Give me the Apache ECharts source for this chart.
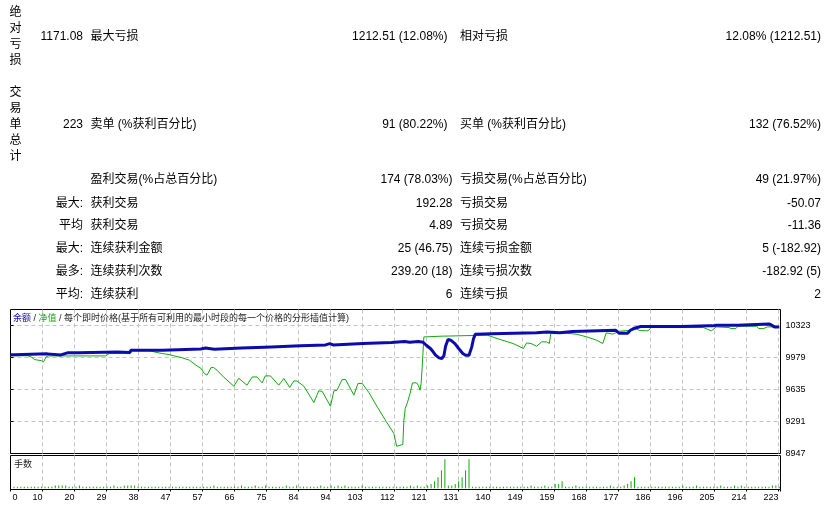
<!DOCTYPE html>
<html><head><meta charset="utf-8">
<script src="https://cdn.jsdelivr.net/npm/echarts@6/dist/echarts.min.js"></script>
<style>html,body{margin:0;padding:0;background:#fff}#c{width:832px;height:508px}</style>
</head><body><div id="c"></div>
<script>
// ---------- report table text ----------
const sectionLabels = ['绝对亏损', '交易单总计'];
const col1 = ['1171.08', '223', '', '最大:', '平均', '最大:', '最多:', '平均:'];
const col2 = ['最大亏损', '卖单 (%获利百分比)', '盈利交易(%占总百分比)', '获利交易', '获利交易', '连续获利金额', '连续获利次数', '连续获利'];
const col3 = ['1212.51 (12.08%)', '91 (80.22%)', '174 (78.03%)', '192.28', '4.89', '25 (46.75)', '239.20 (18)', '6'];
const col4 = ['相对亏损', '买单 (%获利百分比)', '亏损交易(%占总百分比)', '亏损交易', '亏损交易', '连续亏损金额', '连续亏损次数', '连续亏损'];
const col5 = ['12.08% (1212.51)', '132 (76.52%)', '49 (21.97%)', '-50.07', '-11.36', '5 (-182.92)', '-182.92 (5)', '2'];

// ---------- chart text ----------
const chartTitleParts = ['余额', '净值', '每个即时价格(基于所有可利用的最小时段的每一个价格的分形插值计算)'];
const volumeTitle = '手数';
const xTickLabels = ['0','10','20','29','38','47','57','66','75','84','94','103','112','121','131','140','149','159','168','177','186','196','205','214','223'];
const yTickLabels = ['8947','9291','9635','9979','10323'];

// ---------- series: [trade number, value] ----------
const balancePoints = [
[0,10008],[1.2,10008],[1.6,10018],[10.7,10018],[11.1,10007],[14.6,10007],[15,10022],[16.5,10029],[19.7,10029],[20,10039],[31,10039],[31.3,10033],[34.6,10033],[34.9,10056],[44.1,10056],[44.4,10071],[55.2,10071],[55.5,10082],[56.6,10082],[56.9,10068],[59.1,10068],[59.4,10082],[67,10082],[67.3,10093],[75.7,10093],[76,10104],[84.1,10104],[84.4,10114],[91.4,10114],[91.7,10129],[92.6,10129],[92.9,10114],[93.6,10114],[93.9,10129],[102.2,10129],[102.5,10140],[110.5,10140],[110.8,10151],[114.3,10151],[114.6,10143],[115.8,10143],[116.2,10151],[118.3,10151],[118.8,10156],[119.7,10143],[120.6,10111],[121.8,10076],[122.6,10040],[123.3,10004],[124.3,9975],[125.1,9968],[125.7,9996],[126.2,10100],[126.9,10173],[127.7,10165],[128.9,10129],[130,10076],[131.2,10022],[132,10004],[133,10004],[133.4,10022],[133.8,10093],[134.3,10180],[134.8,10228],[139.6,10235],[140.1,10244],[152.6,10244],[153,10254],[155.6,10254],[155.9,10244],[159.3,10244],[159.6,10258],[163,10258],[163.3,10272],[175.6,10272],[176,10258],[176.5,10240],[179,10240],[179.8,10272],[181,10294],[182.8,10312],[194.5,10312],[194.8,10319],[202.6,10319],[203,10330],[203.6,10319],[204.8,10326],[210.9,10326],[211.3,10340],[220,10340],[220.8,10326],[221.6,10308],[223,10308]
];
const equityPoints = [
[0,9998],[5,9998],[6,9985],[7,9957],[8,9950],[9,9945],[9.6,9932],[10.3,9985],[11,9996],[27.6,9996],[28,9982],[28.6,10022],[29.3,10025],[34.8,10025],[35.2,10052],[40.5,10052],[42,10036],[44,10022],[46,10011],[47.5,9996],[49.5,9979],[51.9,9950],[53.8,9896],[55.3,9861],[56.2,9807],[57,9789],[58.2,9872],[58.9,9872],[59.9,9842],[61.8,9770],[64.8,9670],[66.2,9756],[66.6,9756],[68.6,9681],[70.1,9770],[71.5,9770],[73,9706],[73.9,9781],[75.4,9781],[77.8,9681],[79.3,9753],[79.8,9753],[81,9657],[82.2,9727],[83.1,9727],[85.1,9670],[88,9495],[89.4,9620],[90.4,9616],[92.8,9455],[93.8,9620],[94.7,9627],[96.2,9742],[97.2,9742],[99.6,9574],[100.8,9700],[102,9700],[104,9600],[106.5,9440],[109,9290],[111.2,9162],[112,9025],[113.8,9044],[114.1,9305],[114.5,9431],[115.1,9491],[115.9,9592],[116.6,9706],[117.8,9706],[118.3,9680],[118.8,9627],[119.1,9700],[119.4,9870],[119.9,10200],[124.9,10208],[125.2,10219],[138.3,10219],[142,10173],[145.8,10129],[148.8,10076],[149.7,10136],[151,10129],[152.6,10100],[154.1,10147],[155.5,10147],[156.3,10129],[156.7,10237],[161.3,10240],[164.2,10229],[167.2,10200],[170,10165],[171.8,10129],[172.8,10244],[174.7,10230],[176.6,10262],[180.5,10272],[181.5,10287],[182.5,10268],[185,10266],[185.8,10301],[201,10301],[203.3,10265],[204.7,10308],[208.4,10301],[209,10290],[210.4,10290],[211,10315],[216.5,10315],[217,10290],[218.5,10290],[219.5,10308],[223,10308]
];
// lots of trades 1..223
const volumeLots = [
0.01,0.01,0.01,0.01,0.01,0.01,0.01,0.01,0.01,0.01,
0.01,0.01,0.02,0.02,0.02,0.02,0.01,0.01,0.01,0.02,
0.01,0.01,0.01,0.01,0.01,0.01,0.01,0.01,0.01,0.02,
0.01,0.01,0.02,0.02,0.02,0.02,0.01,0.01,0.01,0.01,
0.01,0.01,0.01,0.01,0.01,0.01,0.01,0.01,0.01,0.01,
0.01,0.01,0.01,0.01,0.01,0.01,0.01,0.01,0.02,0.01,
0.01,0.01,0.01,0.01,0.01,0.01,0.02,0.01,0.01,0.01,
0.02,0.01,0.01,0.02,0.01,0.01,0.01,0.01,0.01,0.02,
0.01,0.01,0.02,0.01,0.01,0.01,0.01,0.01,0.01,0.02,
0.01,0.01,0.02,0.01,0.02,0.01,0.02,0.01,0.01,0.01,
0.01,0.02,0.01,0.01,0.01,0.01,0.01,0.01,0.01,0.01,
0.01,0.01,0.01,0.01,0.01,0.02,0.01,0.02,0.01,0.01,
0.02,0.03,0.05,0.08,0.13,0.21,0.02,0.02,0.03,0.05,
0.08,0.13,0.21,0.01,0.01,0.01,0.01,0.01,0.01,0.01,
0.01,0.01,0.01,0.01,0.01,0.01,0.01,0.01,0.01,0.01,
0.02,0.01,0.01,0.01,0.02,0.01,0.01,0.03,0.03,0.05,
0.01,0.01,0.01,0.02,0.01,0.01,0.01,0.01,0.01,0.01,
0.01,0.01,0.01,0.02,0.01,0.01,0.01,0.02,0.03,0.05,
0.08,0.01,0.01,0.01,0.01,0.01,0.01,0.01,0.01,0.01,
0.01,0.01,0.01,0.01,0.02,0.01,0.01,0.01,0.02,0.01,
0.01,0.01,0.01,0.01,0.01,0.02,0.01,0.01,0.01,0.02,
0.01,0.02,0.01,0.01,0.01,0.01,0.01,0.01,0.01,0.01,
0.02,0.02,0.01
];

// ---------- layout / style ----------
const FONT = '"Liberation Sans", "Noto Sans CJK SC", sans-serif';
const BLUE = '#0c0cac';
const GREEN = '#12a812';
const GRIDC = '#c4c4c4';
const DASH = [4, 3];
const rowY = [36.7, 124.3, 180, 203.3, 225.7, 248.3, 271.7, 295];
const sectionRows = [0, 1];
const colX = {c1: 83, c2: 90.5, c3a: 447.5, c3b: 452.5, c4: 460, c5: 821, sec: 15.5};

const graphics = [];
function txt(x, y, text, align, extra) {
  if (!text) return;
  graphics.push({type: 'text', x: x, y: y, silent: true,
    style: Object.assign({text: text, textAlign: align, textVerticalAlign: 'middle', fill: '#000', font: '12px ' + FONT}, extra || {})});
}
sectionLabels.forEach((s, i) => {
  txt(colX.sec, rowY[sectionRows[i]], s.split('').join('\n'), 'center', {lineHeight: 16});
});
for (let r = 0; r < rowY.length; r++) {
  txt(colX.c1, rowY[r], col1[r], 'right');
  txt(colX.c2, rowY[r], col2[r], 'left');
  txt(r < 2 ? colX.c3a : colX.c3b, rowY[r], col3[r], 'right');
  txt(colX.c4, rowY[r], col4[r], 'left');
  txt(colX.c5, rowY[r], col5[r], 'right');
}
graphics.push({type: 'text', x: 13, y: 319, silent: true, z: 10,
  style: {text: '{b|' + chartTitleParts[0] + '} / {g|' + chartTitleParts[1] + '} / ' + chartTitleParts[2],
    textAlign: 'left', textVerticalAlign: 'middle', fill: '#222', font: '9px ' + FONT,
    rich: {b: {fill: BLUE, font: '9px ' + FONT}, g: {fill: GREEN, font: '9px ' + FONT}}}});
graphics.push({type: 'text', x: 14, y: 464.5, silent: true, z: 10,
  style: {text: volumeTitle, textAlign: 'left', textVerticalAlign: 'middle', fill: '#222', font: '9px ' + FONT}});

const X_MAX = 223.35;     // trade scale span of plot width
const XGRID_MAX = 24.0625; // 32px label-step units over plot width
const Y_MIN = 8947, Y_MAX = 10495;
const splitStyle = {show: true, showMinLine: false, showMaxLine: false, lineStyle: {color: GRIDC, type: DASH, width: 1}};

const chart = echarts.init(document.getElementById('c'), null, {renderer: 'canvas'});
chart.setOption({
  animation: false,
  backgroundColor: '#fff',
  graphic: graphics,
  grid: [
    {left: 10.5, right: 51.5, top: 309.5, bottom: 54.5, show: true, borderColor: '#000', borderWidth: 1, backgroundColor: '#fff'},
    {left: 10.5, right: 51.5, top: 455.5, bottom: 18.5, show: true, borderColor: '#000', borderWidth: 1, backgroundColor: '#fff'}
  ],
  xAxis: [
    {gridIndex: 0, type: 'value', min: 0, max: X_MAX, show: false, position: 'bottom'},
    {gridIndex: 0, type: 'value', min: 0, max: XGRID_MAX, interval: 1, position: 'bottom',
      axisLine: {show: false}, axisTick: {show: false}, axisLabel: {show: false}, splitLine: splitStyle},
    {gridIndex: 1, type: 'value', min: 0, max: X_MAX, position: 'bottom',
      axisLine: {show: false}, axisTick: {show: false}, splitLine: {show: false},
      axisLabel: {show: true, showMaxLabel: false, align: 'left', margin: 4, padding: [0, 0, 0, 2], color: '#000', fontSize: 9, fontFamily: FONT,
        formatter: v => v === 0 ? xTickLabels[0] : ''}},
    {gridIndex: 1, type: 'value', min: 0, max: XGRID_MAX, interval: 1, position: 'bottom',
      axisLine: {show: false},
      axisTick: {show: true, length: 2, lineStyle: {color: '#000'}},
      splitLine: splitStyle,
      axisLabel: {show: true, align: 'right', margin: 4, color: '#000', fontSize: 9, fontFamily: FONT,
        formatter: v => (Number.isInteger(v) && v > 0 && xTickLabels[v]) ? xTickLabels[v] : ''}}
  ],
  yAxis: [
    {gridIndex: 0, type: 'value', min: Y_MIN, max: Y_MAX, show: false},
    {gridIndex: 0, type: 'value', min: 0, max: 4.5, interval: 1, position: 'right',
      axisLine: {show: false},
      axisTick: {show: true, length: 3, lineStyle: {color: '#000'}},
      splitLine: splitStyle,
      axisLabel: {show: true, showMaxLabel: false, margin: 5, color: '#000', fontSize: 9, fontFamily: FONT,
        formatter: v => (Number.isInteger(v) && yTickLabels[v]) ? yTickLabels[v] : ''}},
    {gridIndex: 1, type: 'value', min: -0.009, max: 0.237, show: false}
  ],
  series: [
    {name: '净值', type: 'line', xAxisIndex: 0, yAxisIndex: 0, data: equityPoints, showSymbol: false, symbol: 'none',
      lineStyle: {color: GREEN, width: 1}, z: 3, silent: true},
    {name: '余额', type: 'line', xAxisIndex: 0, yAxisIndex: 0, data: balancePoints, showSymbol: false, symbol: 'none',
      lineStyle: {color: BLUE, width: 3}, z: 4, silent: true},
    {name: '手数', type: 'bar', xAxisIndex: 2, yAxisIndex: 2, data: volumeLots.map((v, i) => [i + 1, v]),
      barWidth: 1, itemStyle: {color: GREEN}, silent: true, z: 3}
  ]
});
</script></body></html>
